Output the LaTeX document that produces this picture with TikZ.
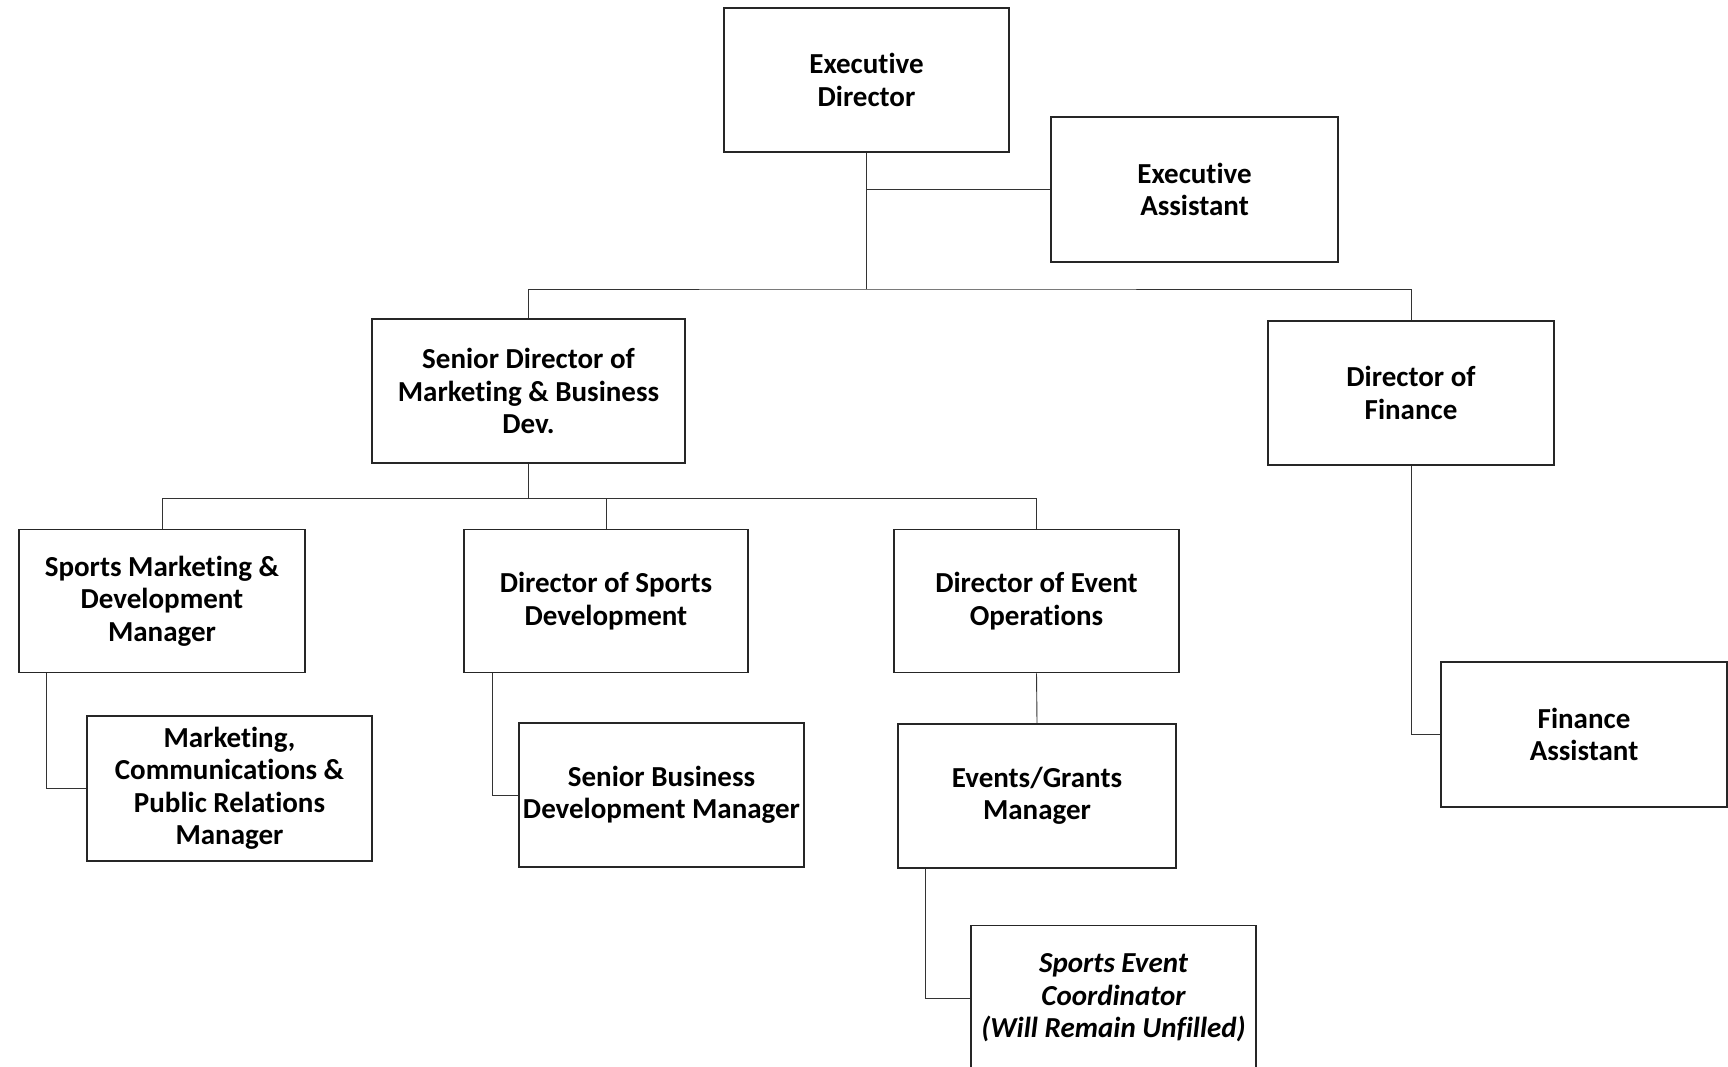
\documentclass[tikz,border=0pt]{standalone}
\usepackage{fontspec}
\setmainfont{Carlito}[Ligatures=NoCommon]
\begin{document}
\begin{tikzpicture}[x=1pt,y=-1pt,
  box/.style={draw=black!85, line width=1.6pt, rectangle, align=center, inner sep=2pt,
    font=\fontsize{29}{32.5}\selectfont\bfseries, text=black},
  link/.style={draw=black!80, line width=0.9pt}]
\useasboundingbox (0,0) rectangle (1728,1066);
\fill[white] (0,0) rectangle (1728,1066);
% boxes
\node[box, minimum width=285pt, minimum height=144pt] (ED) at (866.5,80) {Executive\\Director};
\node[box, minimum width=287pt, minimum height=145pt] (EA) at (1194.5,189.5) {Executive\\Assistant};
\node[box, minimum width=313pt, minimum height=144pt] (SD) at (528.5,391) {Senior Director of\\Marketing \& Business\\Dev.};
\node[box, minimum width=286pt, minimum height=144pt] (DoF) at (1411,393) {Director of\\Finance};
\node[box, minimum width=286pt, minimum height=143pt] (SM) at (162,601) {Sports Marketing \&\\Development\\Manager};
\node[box, minimum width=284pt, minimum height=143pt] (DSD) at (606,601) {Director of Sports\\Development};
\node[box, minimum width=285pt, minimum height=143pt] (DEO) at (1036.5,601) {Director of Event\\Operations};
\node[box, minimum width=285pt, minimum height=145pt] (MC) at (229.5,788.5) {Marketing,\\Communications \&\\Public Relations\\Manager};
\node[box, minimum width=285pt, minimum height=144pt] (SBD) at (661.5,795) {Senior Business\\Development Manager};
\node[box, minimum width=278pt, minimum height=144pt] (EG) at (1037,796) {Events/Grants\\Manager};
\node[box, minimum width=285pt, minimum height=145pt, font=\fontsize{29}{32.5}\selectfont\bfseries\itshape] (SEC) at (1113.5,998) {Sports Event\\Coordinator\\(Will Remain Unfilled)};
\node[box, minimum width=286pt, minimum height=145pt] (FA) at (1584,734.5) {Finance\\Assistant};
% junctions
\coordinate (b1) at (866.5,289);
\coordinate (b2) at (528.5,498);
% connectors
\draw[link] (ED.south) -- (b1);
\draw[link] (ED.south) |- (EA.west);
\draw[link] (SD.north) |- (b1) -| (DoF.north);
\draw[link] (SD.south) -- (b2);
\draw[link] (SM.north) |- (b2) -| (DEO.north);
\draw[link] (DSD.north) -- (DSD.north |- b2);
\draw[link] ([xshift=28pt]SM.south west) |- (MC.west);
\draw[link] ([xshift=29pt]DSD.south west) |- (SBD.west);
\draw[link] (DEO.south) -- (EG.north);
\draw[link] ([xshift=28pt]EG.south west) |- (SEC.west);
\draw[link] (DoF.south) |- (FA.west);
\end{tikzpicture}
\end{document}
